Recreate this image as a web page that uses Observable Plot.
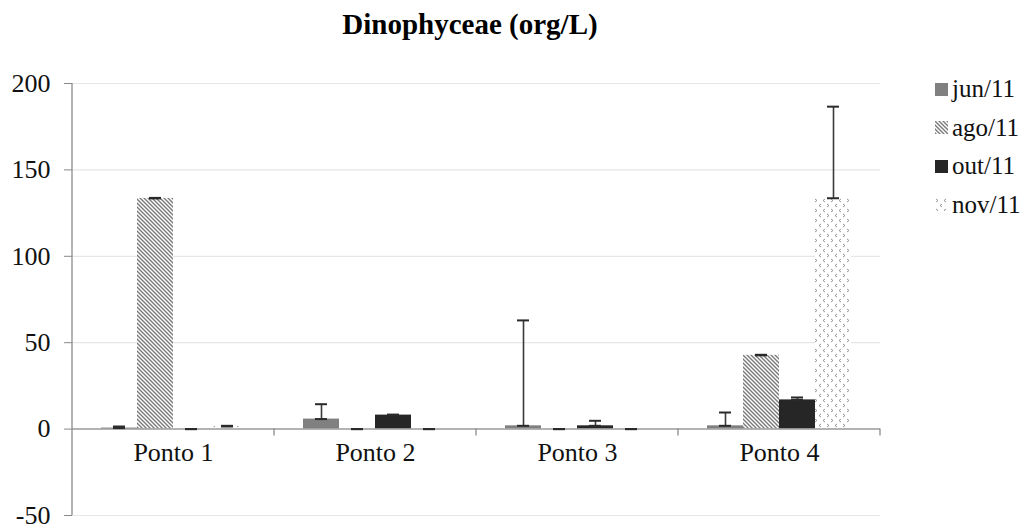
<!DOCTYPE html>
<html>
<head>
<meta charset="utf-8">
<script src="https://cdn.jsdelivr.net/npm/d3@7"></script>
<script src="https://cdn.jsdelivr.net/npm/@observablehq/plot@0.6"></script>
<style>
  body { margin: 0; background: #fff; font-family: "Liberation Serif", "Tinos", "DejaVu Serif", serif; }
  #wrap { position: relative; width: 1033px; height: 530px; overflow: hidden; }
  #title { width: 940px; height: 58px; box-sizing: border-box; padding-top: 10px;
           font-size: 29px; line-height: 29px; font-weight: bold; text-align: center; color: #000; }
  #legend { position: absolute; left: 935px; top: 70px; }
  .item { display: flex; align-items: center; height: 38.5px; font-size: 25px; color: #111; }
  .item svg { margin-right: 4px; }
  #chart svg text { font-family: "Liberation Serif", "Tinos", "DejaVu Serif", serif; }
</style>
</head>
<body>
<svg width="0" height="0" style="position:absolute">
  <defs>
    <pattern id="hatch" patternUnits="userSpaceOnUse" width="4" height="4">
      <rect width="4" height="4" fill="#fff"/>
      <path d="M-1,-1 L5,5 M3,-1 L5,1 M-1,3 L1,5" stroke="#7a7a7a" stroke-width="1.4"/>
    </pattern>
    <pattern id="dots" patternUnits="userSpaceOnUse" width="16" height="10">
      <rect width="16" height="10" fill="#fff"/>
      <path d="M1,1 L3,2.5 L1,4 M11,1 L9,2.5 L11,4 M7,6 L5,7.5 L7,9 M13,6 L15,7.5 L13,9" stroke="#8a8a8a" stroke-width="0.9" fill="none"/>
    </pattern>
  </defs>
</svg>
<div id="wrap">
  <div id="title">Dinophyceae (org/L)</div>
  <div id="chart"></div>
  <div id="legend"></div>
</div>
<script>
// ---- data ----
const pontos = ["Ponto 1", "Ponto 2", "Ponto 3", "Ponto 4"];
const months = ["jun/11", "ago/11", "out/11", "nov/11"];
const jun    = [0.6, 5.8, 1.9, 1.9];
const junErr = [0.9, 8.6, 61, 7.7];
const ago    = [133.5, 0, 0, 42.7];
const agoErr = [0.3, 0, 0, 0.3];
const out    = [0, 8.1, 1.9, 16.9];
const outErr = [0, 0.3, 2.9, 1.4];
const nov    = [1.5, 0, 0, 133.6];
const novErr = [0.4, 0, 0, 53];
const yTicks = [-50, 0, 50, 100, 150, 200];
const fills  = ["#808080", "url(#hatch)", "#262626", "url(#dots)"];

const values = [jun, ago, out, nov];
const errors = [junErr, agoErr, outErr, novErr];
const data = months.flatMap((m, j) => pontos.map((p, i) => ({
  ponto: p, month: m, value: values[j][i], err: errors[j][i]
})));

const serif = "'Liberation Serif', 'Tinos', 'DejaVu Serif', serif";

const chart = Plot.plot({
  width: 1033,
  height: 472,
  marginLeft: 72,
  marginRight: 153,
  marginTop: 25,
  marginBottom: 15,
  style: { fontFamily: serif, background: "transparent", overflow: "visible" },
  fx: { domain: pontos, padding: 0, axis: null },
  x: { domain: months, paddingInner: 0, paddingOuter: 0.73, axis: null },
  y: { domain: [-50, 200], axis: null },
  color: { domain: months, range: fills },
  marks: [
    Plot.ruleY(yTicks.filter(d => d !== 0), { stroke: "#e6e6e6", strokeWidth: 1.2 }),
    Plot.barY(data, { fx: "ponto", x: "month", y: "value", fill: "month" }),
    Plot.ruleY([0], { stroke: "#9a9a9a", strokeWidth: 1.5 }),
    Plot.ruleX(data, { fx: "ponto", x: "month", y1: "value", y2: d => d.value + d.err, stroke: "#3a3a3a", strokeWidth: 1.6 }),
    Plot.tickY(data, { fx: "ponto", x: "month", y: d => d.value + d.err, stroke: "#2a2a2a", strokeWidth: 2, insetLeft: 12, insetRight: 12 }),
    Plot.tickY(data, { fx: "ponto", x: "month", y: "value", stroke: "#2a2a2a", strokeWidth: 2, insetLeft: 12, insetRight: 12 }),
    Plot.axisY({ ticks: yTicks, tickFormat: d => String(d), label: null, tickSize: 8, tickPadding: 14, stroke: "#888", fill: "#111", fontSize: 26 }),
    Plot.text(pontos, { fx: d => d, text: d => d, frameAnchor: "bottom", dy: -55, fontSize: 26, fill: "#111" })
  ]
});
document.getElementById("chart").appendChild(chart);

// axis line and category separators, positioned through Plot's scales
const ys = chart.scale("y"), fxs = chart.scale("fx");
const g = d3.select(chart).append("g").attr("stroke", "#8c8c8c").attr("stroke-width", 1.3);
const x0 = fxs.apply(pontos[0]);
g.append("line").attr("x1", x0).attr("x2", x0).attr("y1", ys.apply(200)).attr("y2", ys.apply(-50));
pontos.forEach(p => {
  const xx = fxs.apply(p) + fxs.bandwidth;
  g.append("line").attr("x1", xx).attr("x2", xx).attr("y1", ys.apply(0)).attr("y2", ys.apply(0) + 7);
});

// legend
const legend = document.getElementById("legend");
months.forEach((m, j) => {
  const it = document.createElement("div");
  it.className = "item";
  it.innerHTML = `<svg width="13" height="13"><rect width="13" height="13" fill="${fills[j]}"/></svg><span>${m}</span>`;
  legend.appendChild(it);
});
</script>
</body>
</html>
